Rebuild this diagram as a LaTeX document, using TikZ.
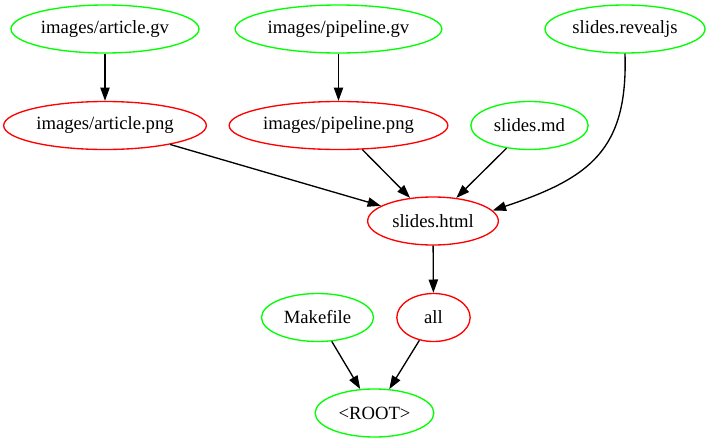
\documentclass[tikz,border=0pt]{standalone}
\usepackage{fontspec}
\setmainfont{Liberation Serif}
\usepackage{tikz}
\usetikzlibrary{arrows.meta,shapes.geometric}
\definecolor{GvGreen}{HTML}{00FF00}
\definecolor{GvRed}{HTML}{FF0000}

\begin{document}
\begin{tikzpicture}[x=0.75pt, y=-0.75pt, font=\fontsize{14}{16}\selectfont, >={Triangle[length=10pt,width=7pt]}, line width=1pt,
  srcfile/.style={ellipse, draw=GvGreen, minimum height=36pt, inner sep=0pt},
  target/.style={ellipse, draw=GvRed, minimum height=36pt, inner sep=0pt}]

\useasboundingbox (0,0) rectangle (711,443);

\node[srcfile, minimum width=141pt] (agv) at (105,29) {images/article.gv};
\node[srcfile, minimum width=155pt] (pgv) at (338.5,29) {images/pipeline.gv};
\node[srcfile, minimum width=120pt] (rev) at (625,29) {slides.revealjs};

\node[target, minimum width=152pt] (apng) at (105,125.5) {images/article.png};
\node[target, minimum width=164pt] (ppng) at (338.5,125.5) {images/pipeline.png};
\node[srcfile, minimum width=88pt] (smd) at (529.5,125.5) {slides.md};

\node[target, minimum width=98pt] (html) at (433,221) {slides.html};

\node[srcfile, minimum width=84pt] (mk) at (317.5,317.5) {Makefile};
\node[target, minimum width=55pt] (all) at (433.5,317.5) {all};

\node[srcfile, minimum width=89pt] (root) at (374.5,413) {<ROOT>};

\foreach \a/\b in {agv/apng,pgv/ppng,apng/html,ppng/html,smd/html,html/all,mk/root,all/root}{\draw[->] (\a) -- (\b);}
\draw[->] (rev.south) .. controls (628,150) and (590,178) .. (html.10);
\end{tikzpicture}
\end{document}
